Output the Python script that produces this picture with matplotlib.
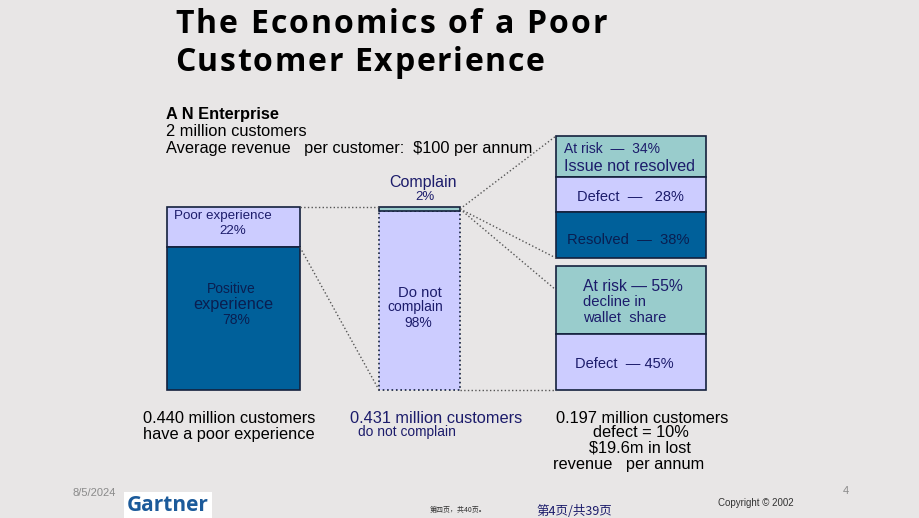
import matplotlib.pyplot as plt
from matplotlib.font_manager import FontProperties

# --- data ---
experience_labels = ["Poor experience", "Positive experience"]
experience_pct = [22, 78]
complain_labels = ["Complain", "Do not complain"]
complain_pct = [2, 98]
complainer_labels = ["At risk", "Defect", "Resolved"]
complainer_pct = [34, 28, 38]
silent_labels = ["At risk", "Defect"]
silent_pct = [55, 45]

LAV = "#CCCCFF"
DARK = "#00609A"
TEAL = "#99CCCC"
NAVY = "#1C1C6B"
BG = "#E8E6E6"

fig = plt.figure(figsize=(9.2, 5.18), dpi=100, facecolor=BG)
ax = fig.add_axes([0, 0, 1, 1])
ax.set_xlim(0, 920)
ax.set_ylim(518, 0)
ax.axis("off")
ax.set_facecolor(BG)

sans = "Liberation Sans"
FS = 11.8


def stack(left, width, top, total, pcts, colors, ls="-"):
    # stacked column drawn top-down, returns the segment edges
    edges = []
    y = top
    for p, c in zip(pcts, colors):
        h = total * p / 100
        ax.bar(left, h, bottom=y, width=width, align="edge", color=c,
               edgecolor="#14213D", linewidth=1.2, linestyle=ls)
        edges.append(y)
        y += h
    edges.append(y)
    return edges


def spaced(x, y, s, spacing, prop):
    # title with letter spacing (the slide uses tracked bold type)
    r = fig.canvas.get_renderer()
    wl = r.get_text_width_height_descent("l", prop, ismath=False)[0]
    for i, ch in enumerate(s):
        off = 0 if i == 0 else r.get_text_width_height_descent(s[:i] + "l", prop, ismath=False)[0] - wl
        ax.text(x + off + i * spacing, y, ch, fontproperties=prop, color="black")


# bar 1: experience
e1 = stack(167, 133, 207, 183, experience_pct, [LAV, DARK])
# bar 2: complain
ax.bar(379, 183 * complain_pct[1] / 100, bottom=207 + 183 * complain_pct[0] / 100,
       width=81, align="edge", color=LAV, edgecolor="#14213D", linewidth=1.2, linestyle=":")
ax.bar(379, 183 * complain_pct[0] / 100, bottom=207, width=81, align="edge",
       color=TEAL, edgecolor="#14213D", linewidth=1.2)
# box 1: complainers
b1 = stack(556, 150, 136, 122, complainer_pct, [TEAL, LAV, DARK])
# box 2: non-complainers
b2 = stack(556, 150, 266, 124, silent_pct, [TEAL, LAV])

# connector lines
lk = dict(color="#555555", linestyle=":", linewidth=1)
ax.plot([300, 379], [207, 207], **lk)
ax.plot([300, 379], [e1[1], 390], **lk)
ax.plot([460, 556], [390, 390], **lk)
ax.plot([460, 556], [209, b1[0]], **lk)
ax.plot([460, 556], [209, b1[-1]], **lk)
ax.plot([460, 556], [209, 290], **lk)

# title
tprop = FontProperties(family="Open Sans", weight="bold", size=23)
spaced(175, 33, "The Economics of a Poor", 2.1, tprop)
spaced(175, 71, "Customer Experience", 1.7, tprop)

# header
ax.text(166, 119, "A N Enterprise", fontsize=FS, fontweight="bold", family=sans)
ax.text(166, 136, "2 million customers", fontsize=FS, family=sans)
ax.text(166, 153, "Average revenue   per customer:  $100 per annum", fontsize=FS, family=sans)

# bar 1 labels
ax.text(174, 219, experience_labels[0], fontsize=9.6, family=sans, color=NAVY)
ax.text(233, 234, f"{experience_pct[0]}%", fontsize=9.6, family=sans, color=NAVY, ha="center")
ax.text(231, 293, "Positive", fontsize=10, family=sans, color="#0A1E50", ha="center")
ax.text(233, 309, "experience", fontsize=11.7, family=sans, color="#0A1E50", ha="center")
ax.text(236, 324, f"{experience_pct[1]}%", fontsize=10, family=sans, color="#0A1E50", ha="center")

# bar 2 labels
ax.text(423, 187, complain_labels[0], fontsize=11.5, family=sans, color=NAVY, ha="center")
ax.text(425, 200, f"{complain_pct[0]}%", fontsize=9.5, family=sans, color=NAVY, ha="center")
ax.text(420, 297, "Do not", fontsize=10.7, family=sans, color=NAVY, ha="center")
ax.text(415, 311, "complain", fontsize=10, family=sans, color=NAVY, ha="center")
ax.text(418, 327, f"{complain_pct[1]}%", fontsize=10, family=sans, color=NAVY, ha="center")

# box 1 labels
ax.text(564, 153, f"{complainer_labels[0]}  —  {complainer_pct[0]}%", fontsize=10, family=sans, color=NAVY)
ax.text(564, 171, "Issue not resolved", fontsize=11.6, family=sans, color=NAVY)
ax.text(577, 201, f"{complainer_labels[1]}  —   {complainer_pct[1]}%", fontsize=10.5, family=sans, color=NAVY)
ax.text(567, 244, f"{complainer_labels[2]}  —  {complainer_pct[2]}%", fontsize=10.6, family=sans, color="#0A1E50")

# box 2 labels
ax.text(583, 291, f"{silent_labels[0]} — {silent_pct[0]}%", fontsize=11.3, family=sans, color=NAVY)
ax.text(583, 306, "decline in", fontsize=10.7, family=sans, color=NAVY)
ax.text(583, 322, "wallet  share", fontsize=10.6, family=sans, color=NAVY)
ax.text(575, 368, f"{silent_labels[1]}  — {silent_pct[1]}%", fontsize=10.5, family=sans, color=NAVY)

# summaries
ax.text(143, 423, "0.440 million customers", fontsize=FS, family=sans)
ax.text(143, 439, "have a poor experience", fontsize=FS, family=sans)
ax.text(350, 423, "0.431 million customers", fontsize=FS, family=sans, color=NAVY)
ax.text(358, 436, "do not complain", fontsize=9.9, family=sans, color=NAVY)
ax.text(642, 423, "0.197 million customers", fontsize=FS, family=sans, ha="center")
ax.text(641, 437, "defect = 10%", fontsize=FS, family=sans, ha="center")
ax.text(640, 452, "$19.6m in lost", fontsize=FS, family=sans, ha="center")
ax.text(629, 469, "revenue   per annum", fontsize=FS, family=sans, ha="center")

# footer
ax.text(73, 496, "8/5/2024", fontsize=8, family=sans, color="#8A8A8A")
ax.text(127, 511, "Gartner", fontsize=15, fontweight="bold", family="Open Sans", color="#1B5A9A",
        bbox=dict(facecolor="white", edgecolor="none", pad=2))
ax.text(430, 512, "第四页，共40页。", fontsize=5, family=["Noto Sans CJK SC", "DejaVu Sans"], color="#333333")
ax.text(536, 515, "第4页/共39页", fontsize=9, family=["Noto Sans CJK SC", "DejaVu Sans"], color=NAVY)
ax.text(718, 506, "Copyright © 2002", fontsize=7, family=sans, color="#333333")
ax.text(843, 494, "4", fontsize=8, family=sans, color="#8A8A8A")

fig.savefig("out.png", dpi=100, facecolor=BG)
